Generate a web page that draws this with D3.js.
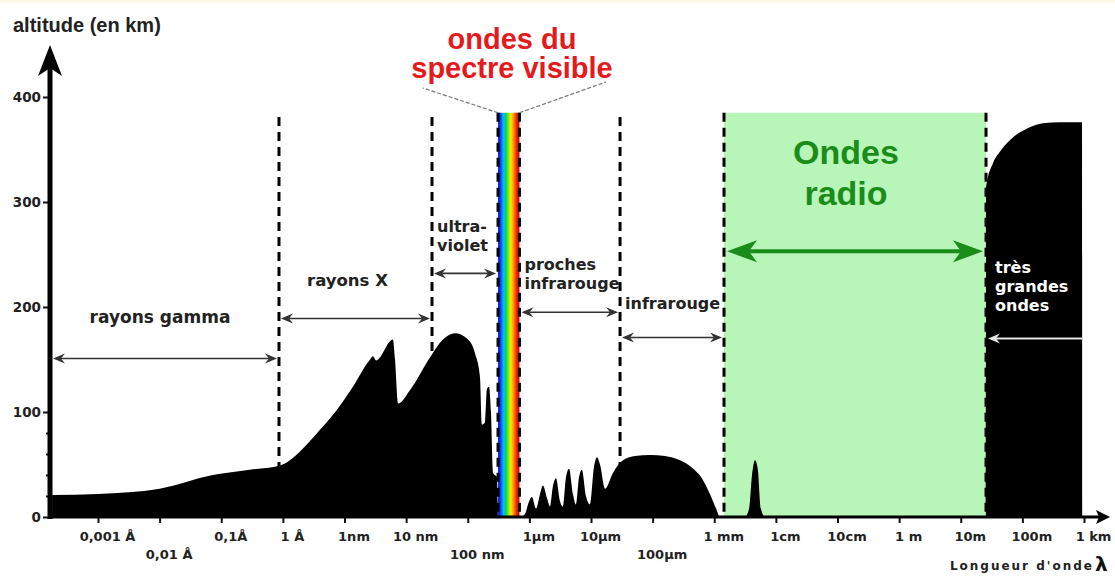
<!DOCTYPE html>
<html>
<head>
<meta charset="utf-8">
<script src="https://cdn.jsdelivr.net/npm/d3@7"></script>
<style>
  body { margin: 0; background: #fff; }
  svg { display: block; }
</style>
</head>
<body>
<div id="graphic"></div>
<script>
// wavelength axis ticks (metres) and their labels
const tickValues = [1e-13, 1e-12, 1e-11, 1e-10, 1e-9, 1e-8, 1e-7, 1e-6, 1e-5, 1e-4, 1e-3, 1e-2, 1e-1, 1, 10, 100, 1000];
const tickLabels = ["0,001 Å", "0,01 Å", "0,1Å", "1 Å", "1nm", "10 nm", "100 nm", "1µm", "10µm", "100µm", "1 mm", "1cm", "10cm", "1 m", "10m", "100m", "1 km"];
const tickLowRow = ["0,01 Å", "100 nm", "100µm"];

// altitude axis (km)
const altTicks = [0, 100, 200, 300, 400];
const altMinor = [20, 40, 60, 80];

// altitude reached by radiation of each wavelength (absorption profile)
const absWave = [1.8e-14, 1e-13, 1e-12, 7.3e-12, 2.9e-11, 9e-11, 1.3e-10, 2.1e-10, 4e-10, 7.5e-10,
  1.37e-9, 2.6e-9, 2.9e-9, 3.25e-9, 6.1e-9, 6.6e-9, 7.4e-9, 1.16e-8, 2.44e-8, 3.96e-8,
  6.2e-8, 9.7e-8, 1.31e-7, 1.58e-7, 1.70e-7, 1.9e-7, 2.05e-7, 2.21e-7, 2.38e-7, 2.57e-7,
  2.98e-7, 3.1e-7, 7.3e-7, 8.5e-7, 9.9e-7, 1.10e-6, 1.28e-6, 1.49e-6, 1.66e-6, 1.93e-6,
  2.16e-6, 2.42e-6, 2.7e-6, 3.14e-6, 3.5e-6, 3.93e-6, 4.4e-6, 5.1e-6, 5.7e-6, 6.4e-6,
  7.1e-6, 8.3e-6, 9.6e-6, 1.12e-5, 1.25e-5, 1.4e-5, 1.69e-5, 2.27e-5, 3.3e-5, 5.2e-5,
  9.1e-5, 1.59e-4, 2.78e-4, 4.35e-4, 6.3e-4, 8.5e-4, 1.07e-3, 1.24e-3, 3.15e-3, 3.67e-3,
  4.1e-3, 4.58e-3, 5.1e-3, 5.7e-3, 6.7e-3, 25.6, 25.8, 33.4, 43.4, 63,
  119, 216, 408, 929, 935];
const absAlt = [21, 22, 27, 40, 45, 49, 54, 65, 83, 102,
  124, 150, 153, 149, 169, 150, 108, 121, 152, 169,
  175, 170, 156, 133, 88, 90, 122, 124, 100, 42,
  38, 0, 0, 3, 15, 19, 8, 22, 30, 18,
  10, 30, 37, 15, 10, 38, 46, 22, 12, 38,
  45, 20, 12, 48, 57, 50, 27, 42, 54, 58,
  59, 58, 54, 47, 37, 22, 8, 0, 0, 8,
  40, 54, 45, 8, 0, 0, 315, 337, 348, 359,
  370, 375, 376, 376, 0];

// limits between the domains (metres)
const bounds = [8.65e-11, 2.63e-8, 3.1e-7, 6.9e-7, 2.96e-5, 1.44e-3, 25.7];
const bandTop = 385; // km, top of the shaded domains
const lineTop = 381; // km, top of the dashed limits

const W = 1115, H = 576;
const svg = d3.select("#graphic").append("svg")
  .attr("width", W).attr("height", H);

const x = d3.scaleLog().domain([1e-13, 1e3]).range([98, 1084]);
const y = d3.scaleLinear().domain([0, 400]).range([517, 97]);
const axisX = 50;

const bold = "'DejaVu Sans', sans-serif";
const arial = "'Liberation Sans', Arial, sans-serif";

// faint yellow strip at the top edge
svg.append("rect").attr("width", W).attr("height", 3).attr("fill", "#fcf9e6");

// radio window
svg.append("rect")
  .attr("x", x(bounds[5])).attr("y", y(bandTop))
  .attr("width", x(bounds[6]) - x(bounds[5]))
  .attr("height", y(0) - y(bandTop))
  .attr("fill", "#b8f5b8");

// absorption profile
const area = d3.area()
  .x((d, i) => x(absWave[i]))
  .y0(y(0))
  .y1(d => y(d))
  .curve(d3.curveMonotoneX);
svg.append("path").datum(absAlt).attr("d", area).attr("fill", "#000");

// visible spectrum
const grad = svg.append("defs").append("linearGradient").attr("id", "rainbow");
[["0", "#2a1a9a"], ["0.1", "#1030ff"], ["0.25", "#00b8ff"], ["0.38", "#00d860"], ["0.5", "#90ee00"],
 ["0.6", "#ffe800"], ["0.72", "#ff9a00"], ["0.85", "#ff2a00"], ["1", "#b80010"]]
  .forEach(([o, c]) => grad.append("stop").attr("offset", o).attr("stop-color", c));
svg.append("rect")
  .attr("x", x(bounds[2])).attr("y", y(bandTop))
  .attr("width", x(bounds[3]) - x(bounds[2]))
  .attr("height", y(0) - y(bandTop))
  .attr("fill", "url(#rainbow)");

// dashed limits
svg.selectAll(".limit")
  .data(bounds)
  .join("line")
  .attr("class", "limit")
  .attr("x1", d => x(d)).attr("x2", d => x(d))
  .attr("y1", (d, i) => (i === 2 || i === 3 || i === 5 || i === 6) ? y(bandTop) : y(lineTop))
  .attr("y2", y(0))
  .attr("stroke", "#000").attr("stroke-width", 3)
  .attr("stroke-dasharray", "9,6");

// leader lines to the visible spectrum title
svg.append("path")
  .attr("d", `M${x(bounds[2])},${y(bandTop)} L423,88 M${x(bounds[3])},${y(bandTop)} L606,82`)
  .attr("stroke", "#777").attr("stroke-width", 1.2).attr("fill", "none")
  .attr("stroke-dasharray", "4,2");

function arrow(xa, xb, yy, o) {
  svg.append("line")
    .attr("x1", xa + (o.start ? o.notch : 0)).attr("x2", xb - (o.end ? o.notch : 0))
    .attr("y1", yy).attr("y2", yy)
    .attr("stroke", o.color).attr("stroke-width", o.width);
  const head = (tip, dir) =>
    `M${tip},${yy} L${tip - dir * o.len},${yy - o.half} L${tip - dir * o.notch},${yy} L${tip - dir * o.len},${yy + o.half} Z`;
  if (o.start) svg.append("path").attr("d", head(xa, -1)).attr("fill", o.color);
  if (o.end) svg.append("path").attr("d", head(xb, 1)).attr("fill", o.color);
}

const thin = { color: "#333", width: 1.6, len: 12, half: 5, notch: 8, start: true, end: true };

// domain arrows
arrow(axisX + 3, x(bounds[0]) - 2, y(151), thin);
arrow(x(bounds[0]) + 2, x(bounds[1]) - 2, y(189), thin);
arrow(x(bounds[1]) + 2, x(bounds[2]) - 2, y(232), thin);
arrow(x(bounds[3]) + 2, x(bounds[4]) - 2, y(195), thin);
arrow(x(bounds[4]) + 2, x(bounds[5]) - 2, y(171), thin);
arrow(x(bounds[5]) + 3, x(bounds[6]) - 3, y(253), { color: "#1a8c1a", width: 4, len: 30, half: 11, notch: 22, start: true, end: true });
arrow(x(bounds[6]) + 2, x(935), y(170), { color: "#e4e4e4", width: 2, len: 12, half: 5, notch: 8, start: true, end: false });

// domain labels
function label(lines, xx, yy, anchor, fill, size) {
  const t = svg.append("text")
    .attr("font-family", bold).attr("font-weight", "bold").attr("font-size", size || 16)
    .attr("fill", fill).attr("text-anchor", anchor);
  lines.forEach((s, i) => t.append("tspan").attr("x", xx).attr("y", yy + i * 19).text(s));
}
label(["rayons gamma"], 160, 323, "middle", "#222", 17);
label(["rayons X"], 307, 286, "start", "#222", 16.5);
label(["ultra-", "violet"], x(bounds[1]) + 5, 232, "start", "#222");
label(["proches", "infrarouge"], x(bounds[3]) + 5, 270, "start", "#222");
label(["infrarouge"], x(bounds[4]) + 5, 309, "start", "#222");
label(["très", "grandes", "ondes"], x(bounds[6]) + 9, 273, "start", "#fff");

// titles
const red = svg.append("text")
  .attr("font-family", arial).attr("font-weight", "bold").attr("font-size", 29)
  .attr("fill", "#e41a1c").attr("text-anchor", "middle");
red.append("tspan").attr("x", 512).attr("y", 49).text("ondes du");
red.append("tspan").attr("x", 512).attr("y", 78).text("spectre visible");

const green = svg.append("text")
  .attr("font-family", arial).attr("font-weight", "bold").attr("font-size", 34)
  .attr("fill", "#1a8c1a").attr("text-anchor", "middle");
green.append("tspan").attr("x", 846).attr("y", 164).text("Ondes");
green.append("tspan").attr("x", 846).attr("y", 205).text("radio");

svg.append("text")
  .attr("x", 13).attr("y", 32)
  .attr("font-family", arial).attr("font-weight", "bold").attr("font-size", 20)
  .attr("fill", "#222")
  .text("altitude (en km)");

// y axis
const yAxis = svg.append("g")
  .attr("transform", `translate(${axisX},0)`)
  .call(d3.axisLeft(y).tickValues(altTicks).tickSize(7).tickPadding(2));
yAxis.select(".domain").remove();
yAxis.selectAll("line").attr("stroke", "#111").attr("stroke-width", 2);
yAxis.selectAll("text")
  .attr("font-family", bold).attr("font-weight", "bold").attr("font-size", 13.5).attr("fill", "#222");

const yMinor = svg.append("g")
  .attr("transform", `translate(${axisX},0)`)
  .call(d3.axisLeft(y).tickValues(altMinor).tickSize(4).tickFormat(""));
yMinor.select(".domain").remove();
yMinor.selectAll("line").attr("stroke", "#111").attr("stroke-width", 2);

// x axis
const xAxis = svg.append("g")
  .attr("transform", `translate(0,${y(0)})`)
  .call(d3.axisBottom(x).tickValues(tickValues).tickFormat((d, i) => tickLabels[i]).tickSize(6));
xAxis.select(".domain").remove();
xAxis.selectAll("line").attr("stroke", "#111").attr("stroke-width", 2);
xAxis.selectAll("text")
  .attr("dy", 0).attr("dx", 9)
  .attr("y", (d, i) => tickLowRow.includes(tickLabels[i]) ? 42 : 24)
  .attr("font-family", bold).attr("font-weight", "bold").attr("font-size", 13).attr("fill", "#222");

// axis lines with arrow heads
svg.append("line")
  .attr("x1", axisX).attr("x2", axisX).attr("y1", y(0) + 2).attr("y2", 66)
  .attr("stroke", "#000").attr("stroke-width", 5);
svg.append("path")
  .attr("d", `M${axisX},45 L${axisX - 12},76 L${axisX},68 L${axisX + 12},76 Z`)
  .attr("fill", "#000");
svg.append("line")
  .attr("x1", axisX - 2).attr("x2", 1100).attr("y1", y(0)).attr("y2", y(0))
  .attr("stroke", "#000").attr("stroke-width", 3);
svg.append("path")
  .attr("d", `M1110,${y(0)} L1096,${y(0) - 7} L1099,${y(0)} L1096,${y(0) + 7} Z`)
  .attr("fill", "#000");

// x axis title
svg.append("text")
  .attr("x", 1094).attr("y", 570).attr("text-anchor", "end")
  .attr("font-family", bold).attr("font-weight", "bold").attr("font-size", 12)
  .attr("letter-spacing", 2).attr("fill", "#222")
  .text("Longueur d'onde");
svg.append("text")
  .attr("x", 1095).attr("y", 571)
  .attr("font-family", bold).attr("font-weight", "bold").attr("font-size", 20)
  .attr("fill", "#111")
  .text("λ");
</script>
</body>
</html>
